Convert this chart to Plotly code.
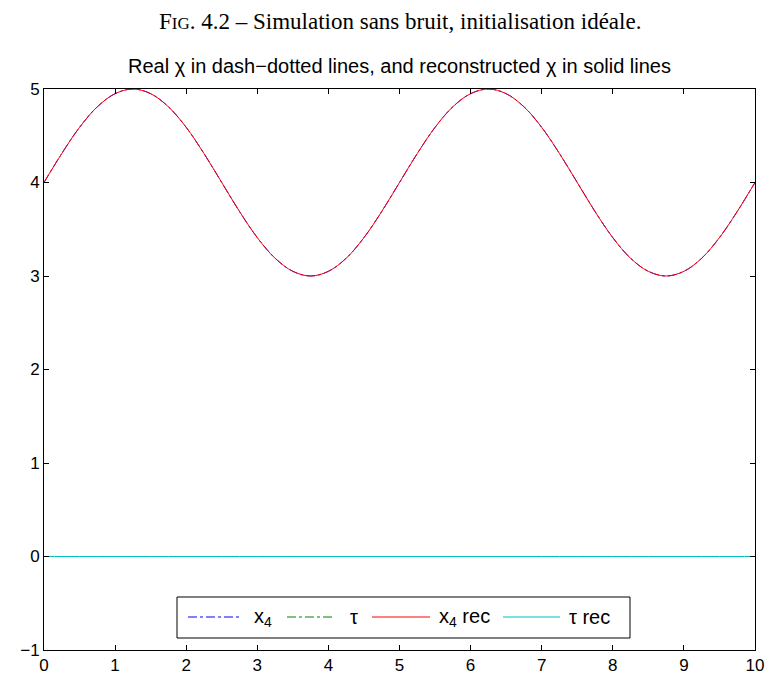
import plotly.graph_objects as go

# time axis (s) and signal samples
t = [i * 0.25 for i in range(41)]
x4_real = [4.00, 4.31, 4.59, 4.81, 4.95, 5.00, 4.95, 4.81, 4.59, 4.31,
           4.00, 3.69, 3.41, 3.19, 3.05, 3.00, 3.05, 3.19, 3.41, 3.69,
           4.00, 4.31, 4.59, 4.81, 4.95, 5.00, 4.95, 4.81, 4.59, 4.31,
           4.00, 3.69, 3.41, 3.19, 3.05, 3.00, 3.05, 3.19, 3.41, 3.69,
           4.00]
x4_rec = list(x4_real)
tau_real = [0.0] * 41
tau_rec = [0.0] * 41

x_ticks = list(range(0, 11))
y_ticks = [-1, 0, 1, 2, 3, 4, 5]

series_names = ["x<sub>4</sub>", "τ", "x<sub>4</sub> rec", "τ rec"]
series_colors = ["#0000ff", "#008000", "#ff0000", "#00bfbf"]
series_dash = ["dashdot", "dashdot", "solid", "solid"]
series_values = [x4_real, tau_real, x4_rec, tau_rec]

W, H = 769, 678
ML, MR, MT, MB = 44, 14, 89, 28
PW, PH = W - ML - MR, H - MT - MB


def px_x(px):
    return (px - ML) / PW


def px_y(py):
    return (H - MB - py) / PH


fig = go.Figure()
for name, col, dash, vals in zip(series_names, series_colors, series_dash, series_values):
    fig.add_trace(go.Scatter(x=t, y=vals, mode="lines", name=name, showlegend=False,
                             line=dict(color=col, width=1, dash=dash, shape="spline")))

axis_common = dict(showline=True, linecolor="black", linewidth=1, mirror="allticks",
                   ticks="inside", ticklen=5, tickcolor="black", showgrid=False,
                   zeroline=False, automargin=False,
                   tickfont=dict(family="Liberation Sans, Arial", size=17, color="black"))

fig.update_xaxes(range=[0, 10], tickvals=x_ticks, **axis_common)
fig.update_yaxes(range=[-1, 5], tickvals=y_ticks, **axis_common)

# legend: framed box with one sample line and label per series
legend_line_px = [(188, 240), (287, 335), (372, 430), (503, 560)]
legend_label_px = [252, 348, 437, 567]
legend_row_py = 617

shapes = [dict(type="rect", xref="paper", yref="paper",
               x0=px_x(177), x1=px_x(630), y0=px_y(638), y1=px_y(597),
               line=dict(color="black", width=1), fillcolor="white", layer="above")]
annotations = []
for (a, b), lx, name, col, dash in zip(legend_line_px, legend_label_px,
                                        series_names, series_colors, series_dash):
    shapes.append(dict(type="line", xref="paper", yref="paper",
                       x0=px_x(a), x1=px_x(b), y0=px_y(legend_row_py), y1=px_y(legend_row_py),
                       line=dict(color=col, width=1, dash=dash), layer="above"))
    annotations.append(dict(text=name, x=px_x(lx), y=px_y(legend_row_py),
                            xref="paper", yref="paper", xanchor="left", yanchor="middle",
                            showarrow=False,
                            font=dict(family="Liberation Sans, Arial", size=20, color="black")))

annotations += [
    dict(text="F<span style='font-size:17px'>IG</span>. 4.2 – Simulation sans bruit, initialisation idéale.",
         x=0.5, y=1.0, xref="paper", yref="paper", yanchor="bottom", yshift=53,
         showarrow=False,
         font=dict(family="Liberation Serif, Times New Roman", size=23, color="black")),
    dict(text="Real χ in dash−dotted lines, and reconstructed χ in solid lines",
         x=0.5, y=1.0, xref="paper", yref="paper", yanchor="bottom", yshift=10,
         showarrow=False,
         font=dict(family="Liberation Sans, Arial", size=20, color="black")),
]

fig.update_layout(
    width=W, height=H,
    margin=dict(l=ML, r=MR, t=MT, b=MB),
    plot_bgcolor="white", paper_bgcolor="white",
    showlegend=False,
    shapes=shapes,
    annotations=annotations,
)

fig.write_html("out.html")
